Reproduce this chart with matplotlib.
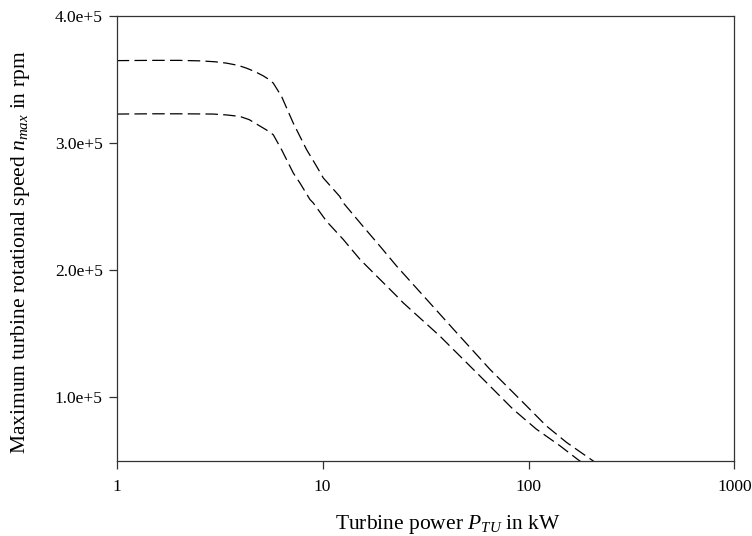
import numpy as np
import matplotlib
matplotlib.use("Agg")
import matplotlib.pyplot as plt
from matplotlib.ticker import FixedLocator, FuncFormatter, NullLocator

plt.rcParams["font.family"] = ["Liberation Serif", "DejaVu Serif"]
plt.rcParams["mathtext.fontset"] = "custom"
plt.rcParams["mathtext.rm"] = "Liberation Serif"
plt.rcParams["mathtext.it"] = "Liberation Serif:italic"

# Turbine power in kW and maximum rotational speed in rpm
power_upper = [1.0, 1.5, 2.0, 2.54, 3.0, 3.42, 3.9, 4.28, 4.7, 5.15, 5.5, 5.76, 6.32,
               7.20, 8.36, 9.35, 10.07, 12.1, 12.6, 15.7, 19.0, 22.9, 32.0, 44.7,
               64.9, 94.1, 122, 153, 202, 215]
speed_upper = [364700, 364900, 364900, 364500, 363800, 362700, 360900, 358700, 356000,
               352700, 349800, 347000, 336500, 315600, 294700, 281600, 272500, 258000,
               252900, 234500, 218800, 203100, 177000, 150900, 122100, 96000, 77600,
               64600, 51000, 48000]

power_lower = [1.0, 1.5, 2.0, 2.5, 2.94, 3.42, 3.97, 4.4, 4.78, 5.15, 5.5, 5.76, 6.32,
               7.20, 7.76, 8.68, 9.0, 10.45, 12.6, 15.2, 19.0, 22.9, 24.6, 37.1, 58.0,
               84.1, 109, 142, 174, 185]
speed_lower = [322700, 322900, 322900, 322800, 322700, 322000, 320800, 318300, 314800,
               311700, 308900, 306400, 294700, 276400, 268500, 255500, 252900, 238400,
               224100, 208400, 192700, 179600, 174400, 148200, 116900, 90700, 75100,
               62000, 51000, 48000]

x_ticks = [1, 10, 100, 1000]
y_ticks = [1.0e5, 2.0e5, 3.0e5, 4.0e5]


def sci_label(v, pos=None):
    mant, exp = f"{v:.1e}".split("e")
    return f"{mant}e{int(exp):+d}"


fig = plt.figure(figsize=(7.52, 5.36), dpi=100)
ax = fig.add_axes([0.1552, 0.1399, 0.8215, 0.8308])

for px, sy in ((power_upper, speed_upper), (power_lower, speed_lower)):
    line, = ax.plot(px, sy, color="black", lw=0.9, solid_capstyle="butt")
    line.set_dashes((10, 4.2))

ax.set_xscale("log")
ax.set_xlim(1, 1000)
ax.set_ylim(5e4, 4e5)
ax.xaxis.set_major_locator(FixedLocator(x_ticks))
ax.xaxis.set_minor_locator(NullLocator())
ax.xaxis.set_major_formatter(FuncFormatter(lambda v, p: f"{v:g}"))
ax.yaxis.set_major_locator(FixedLocator(y_ticks))
ax.yaxis.set_major_formatter(FuncFormatter(sci_label))

for sp in ax.spines.values():
    sp.set_linewidth(0.9)
    sp.set_color("#333333")

ax.tick_params(axis="both", which="major", direction="out", length=5.5, width=0.9,
               color="#333333", labelsize=12.5, top=False, right=False)
ax.tick_params(axis="x", pad=7.5)
ax.tick_params(axis="y", pad=4.5)

fig.text(448 / 752, 1 - 529 / 536, "Turbine power $P_{TU}$ in kW",
         fontsize=15.5, ha="center", va="baseline")
fig.text(21 / 752, 1 - 252 / 536, "Maximum turbine rotational speed $n_{max}$ in rpm",
         fontsize=15.5, rotation=90, ha="center", va="center")

fig.savefig("out.png", dpi=100)
